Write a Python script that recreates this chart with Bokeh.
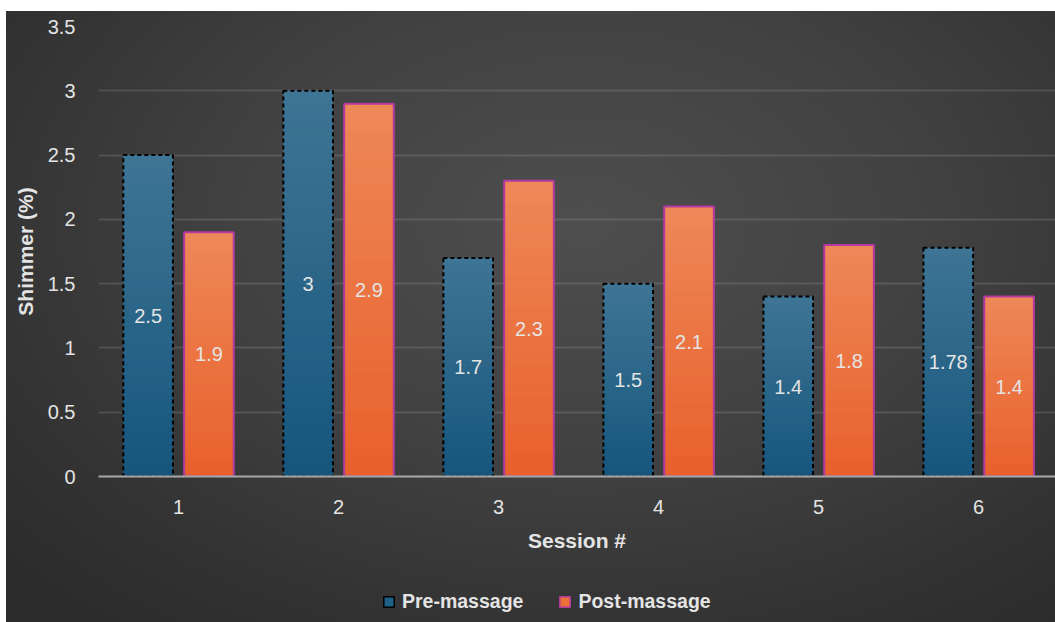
import numpy as np
from bokeh.plotting import figure
from bokeh.models import (ColumnDataSource, Legend, LegendItem, Range1d, FixedTicker,
                          Spacer)
from bokeh.layouts import column, row
from bokeh.core.properties import value
from bokeh.embed import file_html
from bokeh.resources import INLINE

sessions = [1, 2, 3, 4, 5, 6]
pre_massage = [2.5, 3.0, 1.7, 1.5, 1.4, 1.78]
post_massage = [1.9, 2.9, 2.3, 2.1, 1.8, 1.4]
pre_labels = ["2.5", "3", "1.7", "1.5", "1.4", "1.78"]
post_labels = ["1.9", "2.9", "2.3", "2.1", "1.8", "1.4"]
y_ticks = [0, 0.5, 1, 1.5, 2, 2.5, 3, 3.5]

FONT = "Liberation Sans"
TXT = "#e4e4e4"
OFF = 0.19
BW = 0.31

p = figure(width=1049, height=570, output_backend="svg", toolbar_location=None,
           x_range=Range1d(0.5, 6.48), y_range=Range1d(0, 3.5),
           min_border_left=92, min_border_right=0, min_border_top=15,
           min_border_bottom=105)
p.border_fill_alpha = 0
p.background_fill_alpha = 0
p.outline_line_color = None

def lerp(c1, c2, t):
    a = np.array([int(c1[i:i+2], 16) for i in (1, 3, 5)], dtype=float)
    b = np.array([int(c2[i:i+2], 16) for i in (1, 3, 5)], dtype=float)
    c = a + (b - a) * t
    return "#%02x%02x%02x" % tuple(int(round(v)) for v in c)

N = 40
def gradient_bars(xs, vals, top_c, bot_c):
    left, right, bottom, top, colors = [], [], [], [], []
    for x, v in zip(xs, vals):
        for k in range(N):
            left.append(x - BW / 2)
            right.append(x + BW / 2)
            bottom.append(v * k / N)
            top.append(min(v * (k + 2) / N, v))
            colors.append(lerp(bot_c, top_c, (k + 0.5) / N))
    p.quad(left=left, right=right, bottom=bottom, top=top, fill_color=colors,
           line_color=None)

pre_x = [s - OFF for s in sessions]
post_x = [s + OFF for s in sessions]

gradient_bars(pre_x, pre_massage, "#3f7595", "#15567d")
gradient_bars(post_x, post_massage, "#ee8859", "#e8602a")

p.vbar(x=pre_x, top=pre_massage, width=BW, fill_color=None, line_color="black",
       line_width=2, line_dash="4 3")
p.vbar(x=post_x, top=post_massage, width=BW, fill_color=None, line_color="#b43aa2",
       line_width=2)

# value labels at half height
p.text(x=pre_x, y=[v / 2 for v in pre_massage], text=pre_labels,
       text_align="center", text_baseline="middle", text_color=TXT,
       text_font=value(FONT), text_font_size="20px")
p.text(x=post_x, y=[v / 2 for v in post_massage], text=post_labels,
       text_align="center", text_baseline="middle", text_color=TXT,
       text_font=value(FONT), text_font_size="20px")

# axes
p.xaxis.ticker = FixedTicker(ticks=sessions)
p.yaxis.ticker = FixedTicker(ticks=y_ticks)
p.xaxis.major_label_overrides = {s: str(s) for s in sessions}
p.yaxis.major_label_overrides = {0: "0", 0.5: "0.5", 1: "1", 1.5: "1.5", 2: "2",
                                 2.5: "2.5", 3: "3", 3.5: "3.5"}
for ax in (p.xaxis[0], p.yaxis[0]):
    ax.major_tick_line_color = None
    ax.minor_tick_line_color = None
    ax.major_label_text_color = TXT
    ax.major_label_text_font = FONT
    ax.major_label_text_font_size = "20px"
    ax.axis_label_text_color = TXT
    ax.axis_label_text_font = FONT
    ax.axis_label_text_font_style = "bold"
    ax.axis_label_text_font_size = "21px"
p.xaxis.axis_line_color = "#a8a8a8"
p.xaxis.axis_line_width = 2
p.yaxis.axis_line_color = None
p.xaxis.axis_label = "Session #"
p.yaxis.axis_label = "Shimmer (%)"
p.xaxis.major_label_standoff = 17
p.xaxis.axis_label_standoff = 12
p.yaxis.major_label_standoff = 17
p.yaxis.axis_label_standoff = 8

p.xgrid.grid_line_color = None
p.ygrid.grid_line_color = "white"
p.ygrid.grid_line_alpha = 0.12
p.ygrid.grid_line_width = 2

# legend in its own strip below the chart
lg = figure(width=1049, height=41, output_backend="svg", toolbar_location=None,
            x_range=Range1d(0, 1), y_range=Range1d(0, 1),
            x_axis_type=None, y_axis_type=None,
            min_border_left=0, min_border_right=0, min_border_top=0,
            min_border_bottom=0)
lg.border_fill_alpha = 0
lg.background_fill_alpha = 0
lg.outline_line_color = None
lg.xgrid.grid_line_color = None
lg.ygrid.grid_line_color = None
src_dummy = ColumnDataSource(dict(x=[5], top=[5]))
r_pre = lg.vbar(x="x", top="top", bottom=4, width=0.3, source=src_dummy,
                fill_color="#1f6088", line_color="black", line_width=1.5)
r_post = lg.vbar(x="x", top="top", bottom=4, width=0.3, source=src_dummy,
                 fill_color="#ec7035", line_color="#b43aa2", line_width=1.5)
legend = Legend(items=[LegendItem(label="Pre-massage", renderers=[r_pre]),
                       LegendItem(label="Post-massage", renderers=[r_post])],
                orientation="horizontal", location=(284, 9),
                background_fill_alpha=0, border_line_color=None,
                label_text_color=TXT, label_text_font=FONT,
                label_text_font_style="bold", label_text_font_size="19.5px",
                glyph_width=13, glyph_height=13, label_standoff=7, spacing=35,
                padding=0, margin=0)
lg.add_layout(legend, "center")

chart = column(p, lg, spacing=0)
chart.styles = {"background": "radial-gradient(ellipse 75% 85% at 55% 35%, #4e4e4e 0%, #414141 45%, #323232 80%, #2b2b2b 100%)"}
layout = column(Spacer(height=11), row(Spacer(width=6), chart, spacing=0), spacing=0)
open("out.html", "w").write(file_html(layout, INLINE))
